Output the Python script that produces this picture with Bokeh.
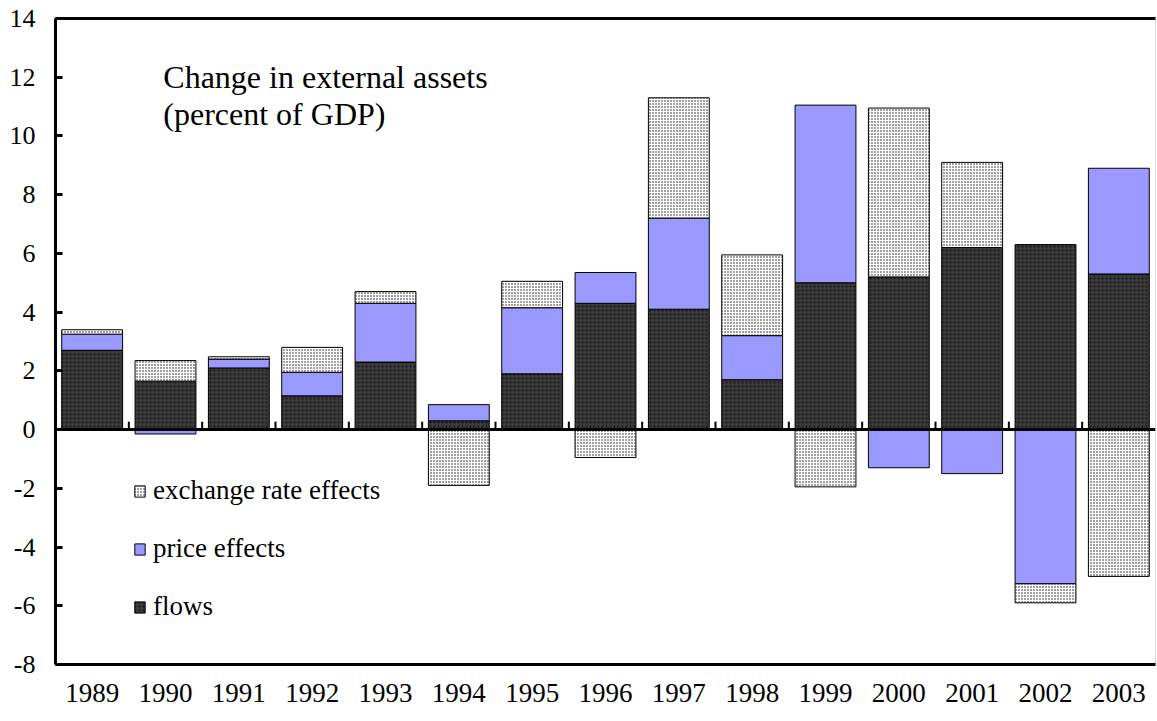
from bokeh.plotting import figure
from bokeh.models import (FixedTicker, LinearAxis, Label, Legend, LegendItem,
                          ColumnDataSource, Span)
from bokeh.embed import file_html
from bokeh.resources import INLINE

years = ["1989", "1990", "1991", "1992", "1993", "1994", "1995", "1996",
         "1997", "1998", "1999", "2000", "2001", "2002", "2003"]
flows = [2.7, 1.65, 2.1, 1.15, 2.3, 0.3, 1.9, 4.3, 4.1, 1.7, 5.0, 5.2, 6.2, 6.3, 5.3]
price_effects = [0.55, -0.15, 0.3, 0.8, 2.0, 0.55, 2.25, 1.05, 3.1, 1.5, 6.05, -1.3, -1.5, -5.25, 3.6]
exchange_effects = [0.15, 0.7, 0.08, 0.85, 0.4, -1.9, 0.9, -0.95, 4.1, 2.75, -1.95, 5.75, 2.9, -0.65, -5.0]
y_ticks = [14, 12, 10, 8, 6, 4, 2, 0, -2, -4, -6, -8]
y_tick_labels = ["14", "12", "10", "8", "6", "4", "2", "0", "-2", "-4", "-6", "-8"]

FONT = "'Liberation Serif', 'DejaVu Serif', serif"
n = len(years)
xs = list(range(1, n + 1))

# stack: positives upward, negatives downward
pos = [0.0] * n
neg = [0.0] * n
series = [("flows", flows), ("price effects", price_effects),
          ("exchange rate effects", exchange_effects)]
stacked = {}
for name, vals in series:
    bottoms, tops = [], []
    for i, v in enumerate(vals):
        if v >= 0:
            bottoms.append(pos[i]); tops.append(pos[i] + v); pos[i] += v
        else:
            bottoms.append(neg[i]); tops.append(neg[i] + v); neg[i] += v
    stacked[name] = ColumnDataSource(dict(x=xs, bottom=bottoms, top=tops))

p = figure(width=1157, height=721, x_range=(0.5, n + 0.5), y_range=(-8, 14),
           output_backend="svg", toolbar_location=None,
           min_border_left=55, min_border_right=2, min_border_top=18,
           min_border_bottom=57)
p.xaxis.visible = False
p.yaxis.visible = False
p.grid.visible = False
p.outline_line_color = "#d9d9d9"
p.background_fill_color = "white"

styles = {
    "flows": dict(fill_color="#3a3a3a", hatch_pattern="dot", hatch_color="#151515",
                  hatch_scale=4, hatch_weight=1),
    "price effects": dict(fill_color="#9999ff"),
    "exchange rate effects": dict(fill_color="white", hatch_pattern="dot",
                                  hatch_color="#111111", hatch_scale=3, hatch_weight=1),
}
renderers = {}
for name, _ in series:
    renderers[name] = p.vbar(x="x", bottom="bottom", top="top", width=0.83,
                             source=stacked[name], line_color="black", line_width=1,
                             **styles[name])

# zero line and its small upward ticks at category boundaries
p.add_layout(Span(location=0, dimension="width", line_color="black", line_width=3))
bx = [i + 0.5 for i in range(1, n)]
p.segment(x0=bx, x1=bx, y0=[0] * len(bx), y1=[0.27] * len(bx),
          line_color="black", line_width=2)

# left axis
yax = LinearAxis(ticker=FixedTicker(ticks=y_ticks),
                 major_label_overrides={t: l for t, l in zip(y_ticks, y_tick_labels)},
                 axis_line_width=3, axis_line_color="black",
                 major_tick_in=7, major_tick_out=0, major_tick_line_width=3,
                 minor_tick_line_color=None,
                 major_label_text_font=FONT, major_label_text_font_size="26px",
                 major_label_text_color="black", major_label_standoff=20)
p.add_layout(yax, "left")

# bottom axis with years
xax = LinearAxis(ticker=FixedTicker(ticks=xs),
                 major_label_overrides={x: y for x, y in zip(xs, years)},
                 axis_line_width=3, axis_line_color="black",
                 major_tick_line_color=None, minor_tick_line_color=None,
                 major_label_text_font=FONT, major_label_text_font_size="27px",
                 major_label_text_color="black", major_label_standoff=13)
p.add_layout(xax, "below")

# top frame line
tax = LinearAxis(ticker=FixedTicker(ticks=[]), axis_line_width=3,
                 axis_line_color="black", major_tick_line_color=None,
                 minor_tick_line_color=None, major_label_text_font_size="0px",
                 major_label_standoff=0)
p.add_layout(tax, "above")

# title text
p.add_layout(Label(x=1.97, y=12.62, text="Change in external assets",
                   text_font=FONT, text_font_size="32px", text_color="black",
                   text_baseline="top"))
p.add_layout(Label(x=1.97, y=11.35, text="(percent of GDP)",
                   text_font=FONT, text_font_size="32px", text_color="black",
                   text_baseline="top"))

legend = Legend(items=[
    LegendItem(label="exchange rate effects", renderers=[renderers["exchange rate effects"]]),
    LegendItem(label="price effects", renderers=[renderers["price effects"]]),
    LegendItem(label="flows", renderers=[renderers["flows"]]),
], location=(78, 42), orientation="vertical",
    label_text_font=FONT, label_text_font_size="27px", label_text_color="black",
    glyph_width=13, glyph_height=14, label_height=27, label_standoff=7,
    spacing=27, padding=0, margin=0, border_line_color=None,
    background_fill_alpha=0)
p.add_layout(legend, "center")

open("out.html", "w").write(file_html(p, INLINE))
